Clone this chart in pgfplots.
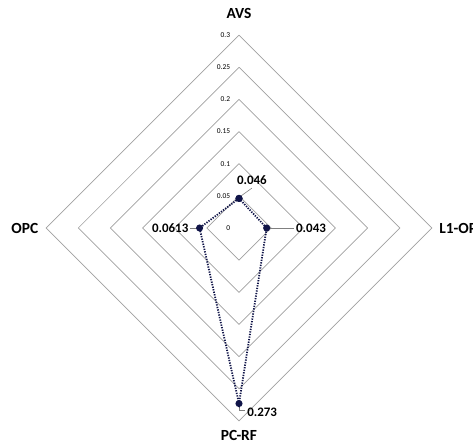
\documentclass[border=0pt]{standalone}
\usepackage{pgfplots}
\pgfplotsset{compat=1.18}
\usepackage{fontspec}
\setmainfont{Carlito}
\definecolor{navy}{RGB}{16,20,72}
\definecolor{gridgray}{RGB}{160,160,160}
\begin{document}
\begin{tikzpicture}[
  grid line/.style={gridgray, line width=0.7pt},
  tick lab/.style={anchor=east, font=\fontsize{7.5}{8}\selectfont, inner sep=0pt},
  data lab/.style={font=\bfseries\fontsize{13}{15}\selectfont},
  cat lab/.style={font=\bfseries\fontsize{15.5}{17}\selectfont},
]
\begin{axis}[
  scale only axis,
  width=473bp, height=445bp,
  xmin=-0.3717, xmax=0.3639,
  ymin=-0.3375, ymax=0.3546,
  hide axis,
  clip=false,
]
% diamond gridlines (0.05 ... 0.3)
\addplot[grid line, forget plot] coordinates {(0,0.05) (0.05,0) (0,-0.05) (-0.05,0) (0,0.05)};
\addplot[grid line, forget plot] coordinates {(0,0.10) (0.10,0) (0,-0.10) (-0.10,0) (0,0.10)};
\addplot[grid line, forget plot] coordinates {(0,0.15) (0.15,0) (0,-0.15) (-0.15,0) (0,0.15)};
\addplot[grid line, forget plot] coordinates {(0,0.20) (0.20,0) (0,-0.20) (-0.20,0) (0,0.20)};
\addplot[grid line, forget plot] coordinates {(0,0.25) (0.25,0) (0,-0.25) (-0.25,0) (0,0.25)};
\addplot[grid line, forget plot] coordinates {(0,0.30) (0.30,0) (0,-0.30) (-0.30,0) (0,0.30)};
% radial tick labels
\node[tick lab] at (axis cs:-0.0135,0) {0};
\node[tick lab] at (axis cs:-0.0135,0.05) {0.05};
\node[tick lab] at (axis cs:-0.0135,0.10) {0.1};
\node[tick lab] at (axis cs:-0.0135,0.15) {0.15};
\node[tick lab] at (axis cs:-0.0135,0.20) {0.2};
\node[tick lab] at (axis cs:-0.0135,0.25) {0.25};
\node[tick lab] at (axis cs:-0.0135,0.30) {0.3};
% leader lines
\draw[gray, line width=0.6pt] (axis cs:0.002,0.049) -- (axis cs:0.020,0.062);
\draw[gray, line width=0.6pt] (axis cs:0.046,0) -- (axis cs:0.085,0);
\draw[gray, line width=0.6pt] (axis cs:-0.059,0) -- (axis cs:-0.076,0);
\draw[gray, line width=0.6pt] (axis cs:0.001,-0.277) -- (axis cs:0.001,-0.284) -- (axis cs:0.009,-0.284);
% data series: AVS, L1-OPC, PC-RF, OPC
\addplot[navy, line width=1.8pt, dash pattern=on 1.3pt off 1.3pt,
  mark=*, mark size=2.6pt, mark options={solid, fill=navy}]
  coordinates {(0,0.046) (0.043,0) (0,-0.273) (-0.0613,0) (0,0.046)};
% data labels
\node[data lab] at (axis cs:0.020,0.075) {0.046};
\node[data lab] at (axis cs:0.112,0) {0.043};
\node[data lab] at (axis cs:-0.107,0) {0.0613};
\node[data lab] at (axis cs:0.036,-0.286) {0.273};
% category labels
\node[cat lab] at (axis cs:0,0.333) {AVS};
\node[cat lab] at (axis cs:-0.333,0) {OPC};
\node[cat lab] at (axis cs:0,-0.322) {PC-RF};
\node[cat lab, anchor=west] at (axis cs:0.306,0) {L1-OPC};
\end{axis}
\pgfresetboundingbox
\path (current axis.south west) rectangle (current axis.north east);
\end{tikzpicture}
\end{document}
